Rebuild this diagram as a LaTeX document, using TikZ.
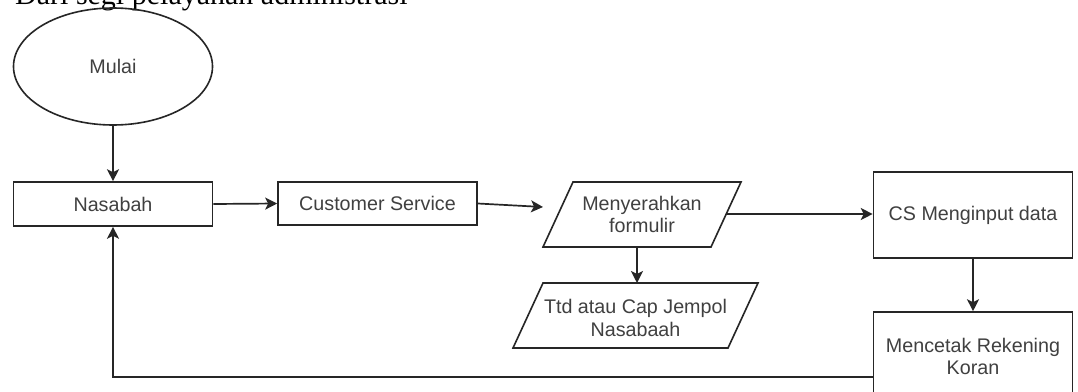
\documentclass[tikz,border=0pt]{standalone}
\usepackage{fontspec}
\setmainfont{Liberation Serif}
\newfontfamily\diagsans{Liberation Sans}
\usetikzlibrary{arrows.meta,shapes.geometric}
\tikzset{
  box/.style={draw=black!85, line width=1.6pt, rectangle, inner sep=0pt, align=center,
    font=\diagsans\fontsize{19.7}{22.5}\selectfont, text=black!75},
  lbl/.style={inner sep=0pt, align=center, font=\diagsans\fontsize{19.7}{22.5}\selectfont, text=black!75},
  shapeline/.style={draw=black!85, line width=1.6pt, line join=miter},
  conn/.style={draw=black!85, line width=1.7pt, -{Stealth[length=12pt,width=12pt,inset=3pt]}}
}
\begin{document}
\begin{tikzpicture}[x=1pt,y=-1pt]
\clip (0,0) rectangle (1078,391);
\fill[white] (0,0) rectangle (1078,391);
% title
\node[anchor=base west, inner sep=0pt, font=\fontsize{30}{34}\selectfont] (title) at (15,4) {Dari segi pelayanan administrasi};
% start ellipse
\node[ellipse, draw=black!85, line width=1.6pt, minimum width=199pt, minimum height=117pt, inner sep=0pt,
  font=\diagsans\fontsize{19.7}{22.5}\selectfont, text=black!75] (mulai) at (113,66.5) {Mulai};
% boxes
\node[box, minimum width=199pt, minimum height=44pt] (nasabah) at (113,204) {Nasabah};
\node[box, minimum width=199pt, minimum height=43pt] (cs) at (377.5,203.5) {Customer Service};
\node[box, minimum width=199pt, minimum height=86pt] (input) at (973,215) {CS Menginput data};
\node[box, minimum width=199pt, minimum height=86pt] (cetak) at (973,355) {};
\node[lbl] (cetaktxt) at (973,356.5) {Mencetak Rekening\\Koran};
% parallelogram 1
\coordinate (p1a) at (573,182);
\coordinate (p1b) at (741,182);
\coordinate (p1c) at (711,247);
\coordinate (p1d) at (543,247);
\draw[shapeline] (p1a) -- (p1b) -- (p1c) -- (p1d) -- cycle;
\node[lbl] (p1) at (642,214.5) {Menyerahkan\\formulir};
% parallelogram 2
\coordinate (p2a) at (543,283);
\coordinate (p2b) at (758,283);
\coordinate (p2c) at (728,348);
\coordinate (p2d) at (513,348);
\draw[shapeline] (p2a) -- (p2b) -- (p2c) -- (p2d) -- cycle;
\node[lbl] (p2) at (635.5,318) {Ttd atau Cap Jempol\\Nasabaah};
% connector end points
\coordinate (p1in) at (543,207);
\coordinate (p1out) at (727,214);
\coordinate (p1bot) at (637,247);
\coordinate (p2top) at (637,283);
\coordinate (cetakout) at (873,377);
% connectors
\draw[conn] (mulai.south) -- (nasabah.north);
\draw[conn] (nasabah.east) -- (cs.west);
\draw[conn] (cs.east) -- (p1in);
\draw[conn] (p1out) -- (p1out -| input.west);
\draw[conn] (p1bot) -- (p2top);
\draw[conn] (input.south) -- (cetak.north);
\draw[conn] (cetakout) -| (nasabah.south);
\end{tikzpicture}
\end{document}
